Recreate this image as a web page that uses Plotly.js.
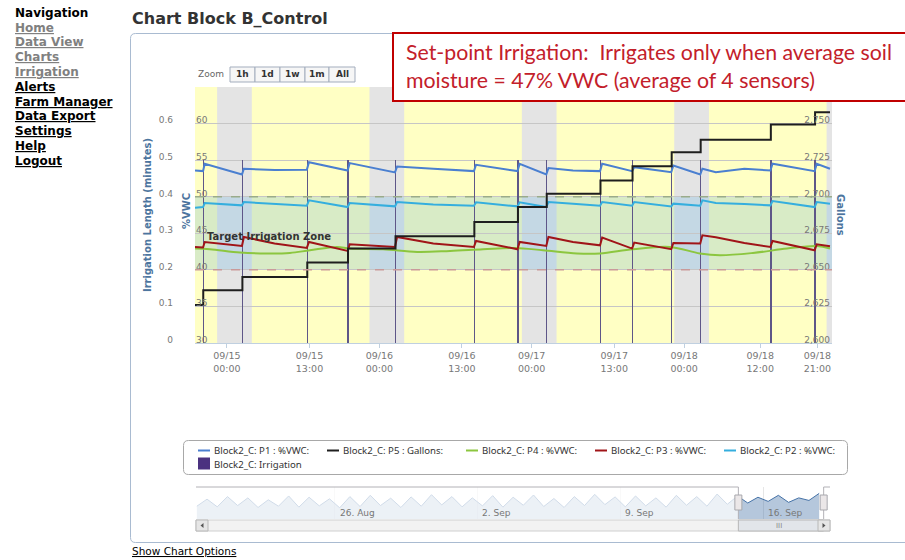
<!DOCTYPE html>
<html><head><meta charset="utf-8">
<script src="https://cdn.plot.ly/plotly-3.0.1.min.js"></script>
<style>html,body{margin:0;padding:0;background:#fff;}#chart{width:905px;height:560px;}</style>
</head><body><div id="chart"></div>
<script>
// ---------------- data ----------------
const eventTimes = ['2014-09-14 20:16','2014-09-15 02:26','2014-09-15 12:39','2014-09-15 19:04','2014-09-16 02:33','2014-09-16 14:58','2014-09-16 21:50','2014-09-17 02:22','2014-09-17 10:50','2014-09-17 15:53','2014-09-17 22:03','2014-09-18 02:37','2014-09-18 13:40','2014-09-18 20:38'];
const irrigationMinutes = [0.5,0.5,0.5,0.5,0.5,0.5,0.5,0.5,0.5,0.5,0.5,0.5,0.5,0.5];

const sensorTimes = ['2014-09-14 18:58','2014-09-14 20:14','2014-09-14 20:30','2014-09-15 02:22','2014-09-15 02:40','2014-09-15 07:30','2014-09-15 12:35','2014-09-15 12:55','2014-09-15 19:00','2014-09-15 19:20','2014-09-16 02:28','2014-09-16 02:48','2014-09-16 08:30','2014-09-16 14:54','2014-09-16 15:14','2014-09-16 21:46','2014-09-16 22:06','2014-09-17 02:18','2014-09-17 02:38','2014-09-17 06:30','2014-09-17 10:46','2014-09-17 11:06','2014-09-17 15:49','2014-09-17 16:09','2014-09-17 21:59','2014-09-17 22:19','2014-09-18 02:33','2014-09-18 02:53','2014-09-18 05:00','2014-09-18 09:30','2014-09-18 13:36','2014-09-18 13:56','2014-09-18 20:34','2014-09-18 20:54','2014-09-18 22:59'];
const p1VWC = [53.59,53.50,54.51,53.05,53.82,53.65,53.69,54.72,53.59,54.59,53.32,54.14,53.82,53.50,54.37,53.50,54.51,53.05,53.91,53.59,53.50,54.51,53.50,54.04,53.36,54.27,53.05,53.82,53.36,53.82,53.59,54.51,53.50,54.51,53.82];
const p2VWC = [48.50,48.59,49.13,48.82,49.27,49.05,48.77,49.50,48.59,49.13,48.68,49.27,48.95,48.77,49.23,48.68,49.23,48.59,49.27,49.05,48.77,49.27,48.77,49.27,48.68,49.05,48.77,49.50,49.13,49.00,48.82,49.41,48.59,49.27,49.05];
const p3VWC = [43.13,43.05,43.81,43.27,44.50,43.60,43.00,43.81,42.59,43.50,43.13,44.50,43.60,43.13,43.95,42.82,43.81,43.27,44.50,43.81,43.36,44.41,42.91,43.73,42.82,43.68,43.59,44.73,44.45,43.68,43.13,43.95,42.68,43.50,43.23];

const p4Times = ['2014-09-14 18:58','2014-09-14 21:19','2014-09-15 02:03','2014-09-15 06:18','2014-09-15 09:55','2014-09-15 13:04','2014-09-15 17:19','2014-09-15 19:22','2014-09-16 00:34','2014-09-16 05:57','2014-09-16 11:08','2014-09-16 16:20','2014-09-16 21:22','2014-09-17 01:47','2014-09-17 07:08','2014-09-17 10:45','2014-09-17 15:57','2014-09-17 21:47','2014-09-18 02:30','2014-09-18 05:39','2014-09-18 10:51','2014-09-18 16:13','2014-09-18 20:56','2014-09-18 22:59'];
const p4VWC = [42.91,42.82,42.37,42.24,42.31,42.68,43.13,42.91,42.82,42.45,42.59,42.82,43.00,42.68,42.24,42.24,42.82,43.13,42.24,42.00,42.31,42.91,43.27,42.91];

const gallonTimes = ['2014-09-14 18:58','2014-09-14 20:16','2014-09-15 02:26','2014-09-15 12:39','2014-09-15 19:04','2014-09-16 02:33','2014-09-16 14:58','2014-09-16 21:50','2014-09-17 02:22','2014-09-17 10:50','2014-09-17 15:53','2014-09-17 22:03','2014-09-18 02:37','2014-09-18 13:40','2014-09-18 20:38','2014-09-18 22:59'];
const gallonValues = [2625.9,2636.1,2645.2,2655.0,2664.6,2673.0,2682.7,2692.9,2702.1,2711.1,2720.9,2730.4,2738.9,2749.3,2757.7,2757.7];

const nightStart = ['2014-09-14 22:27','2014-09-15 22:27','2014-09-16 22:27','2014-09-17 22:27','2014-09-18 22:27'];
const nightEnd   = ['2014-09-15 03:55','2014-09-16 03:55','2014-09-17 03:55','2014-09-18 03:55','2014-09-19 03:55'];
const zoneLow = 40, zoneHigh = 50;

const xTickVals = ['2014-09-15 00:00','2014-09-15 13:00','2014-09-16 00:00','2014-09-16 13:00','2014-09-17 00:00','2014-09-17 13:00','2014-09-18 00:00','2014-09-18 12:00','2014-09-18 21:00'];
const xTickText = ['09/15<br>00:00','09/15<br>13:00','09/16<br>00:00','09/16<br>13:00','09/17<br>00:00','09/17<br>13:00','09/18<br>00:00','09/18<br>12:00','09/18<br>21:00'];
const vwcTicks = [30,35,40,45,50,55,60];
const minuteTicks = [0,0.1,0.2,0.3,0.4,0.5,0.6];
const minuteTickText = ['0','0.1','0.2','0.3','0.4','0.5','0.6'];
const gallonTicks = [2600,2625,2650,2675,2700,2725,2750];
const gallonTickText = ['2,600','2,625','2,650','2,675','2,700','2,725','2,750'];

const navTimes = ['2014-08-19 06:00','2014-08-19 18:00','2014-08-20 06:00','2014-08-20 18:00','2014-08-21 06:00','2014-08-21 18:00','2014-08-22 06:00','2014-08-22 18:00','2014-08-23 06:00','2014-08-23 18:00','2014-08-24 06:00','2014-08-24 18:00','2014-08-25 06:00','2014-08-25 18:00','2014-08-26 06:00','2014-08-26 18:00','2014-08-27 06:00','2014-08-27 18:00','2014-08-28 06:00','2014-08-28 18:00','2014-08-29 06:00','2014-08-29 18:00','2014-08-30 06:00','2014-08-30 18:00','2014-08-31 06:00','2014-08-31 18:00','2014-09-01 06:00','2014-09-01 18:00','2014-09-02 06:00','2014-09-02 18:00','2014-09-03 06:00','2014-09-03 18:00','2014-09-04 06:00','2014-09-04 18:00','2014-09-05 06:00','2014-09-05 18:00','2014-09-06 06:00','2014-09-06 18:00','2014-09-07 06:00','2014-09-07 18:00','2014-09-08 06:00','2014-09-08 18:00','2014-09-09 06:00','2014-09-09 18:00','2014-09-10 06:00','2014-09-10 18:00','2014-09-11 06:00','2014-09-11 18:00','2014-09-12 06:00','2014-09-12 18:00','2014-09-13 06:00','2014-09-13 18:00','2014-09-14 06:00','2014-09-14 18:00','2014-09-15 06:00','2014-09-15 18:00','2014-09-16 06:00','2014-09-16 18:00','2014-09-17 06:00','2014-09-17 18:00','2014-09-18 06:00','2014-09-18 18:00'];
const navValues = [0.40,0.62,0.38,0.70,0.42,0.66,0.36,0.60,0.40,0.72,0.37,0.68,0.41,0.63,0.35,0.70,0.39,0.74,0.42,0.65,0.36,0.69,0.40,0.76,0.44,0.70,0.38,0.66,0.41,0.73,0.37,0.68,0.43,0.75,0.39,0.64,0.36,0.70,0.42,0.77,0.45,0.69,0.38,0.72,0.41,0.66,0.37,0.74,0.43,0.70,0.40,0.78,0.46,0.72,0.50,0.68,0.55,0.74,0.52,0.66,0.58,0.80];
const navTickVals = ['2014-08-26','2014-09-02','2014-09-09','2014-09-16'];
const navTickText = ['26. Aug','2. Sep','9. Sep','16. Sep'];

const seriesNames = ['Block2_C: P1 : %VWC:','Block2_C: P5 : Gallons:','Block2_C: P4 : %VWC:','Block2_C: P3 : %VWC:','Block2_C: P2 : %VWC:','Block2_C: Irrigation'];
const seriesColors = ['#4a7fd0','#1e1e1e','#8cc63f','#a01418','#35aede','#4b3280'];

const navItems = [['Navigation','#000000',false],['Home','#808080',true],['Data View','#808080',true],['Charts','#808080',true],['Irrigation','#808080',true],['Alerts','#000000',true],['Farm Manager','#000000',true],['Data Export','#000000',true],['Settings','#000000',true],['Help','#000000',true],['Logout','#000000',true]];
const zoomButtons = ['1h','1d','1w','1m','All'];

// ---------------- layout helpers ----------------
const W = 905, H = 560;
const X = p => p / W, Y = p => 1 - p / H;
const mainRange = ['2014-09-14 18:58','2014-09-18 23:18'];
const navRange = ['2014-08-19 05:00','2014-09-19 06:45'];
const BLUE_T = '#4d759e';
const FONT = 'DejaVu Sans, Verdana, sans-serif';

const traces = [
  {name:seriesNames[0], x:sensorTimes, y:p1VWC, yaxis:'y2', type:'scatter', mode:'lines', line:{color:seriesColors[0], width:2}},
  {name:seriesNames[1], x:gallonTimes, y:gallonValues, yaxis:'y3', type:'scatter', mode:'lines', line:{color:seriesColors[1], width:2, shape:'hv'}},
  {name:seriesNames[2], x:p4Times, y:p4VWC, yaxis:'y2', type:'scatter', mode:'lines', line:{color:seriesColors[2], width:2, shape:'spline'}},
  {name:seriesNames[3], x:sensorTimes, y:p3VWC, yaxis:'y2', type:'scatter', mode:'lines', line:{color:seriesColors[3], width:2}},
  {name:seriesNames[4], x:sensorTimes, y:p2VWC, yaxis:'y2', type:'scatter', mode:'lines', line:{color:seriesColors[4], width:2}},
  {name:seriesNames[5], x:eventTimes, y:irrigationMinutes, yaxis:'y', type:'bar', width:eventTimes.map(()=>760000), marker:{color:'#5e5688', line:{width:0}}},
  {name:'navigator', x:navTimes, y:navValues, xaxis:'x2', yaxis:'y4', type:'scatter', mode:'lines', fill:'tozeroy', fillcolor:'rgba(69,114,167,0.4)', line:{color:'#4572a7', width:1}}
];
traces.forEach(t=>t.showlegend=false);

const shapes = [];
const annotations = [];
// chart container
const cl = X(130.5), ct = Y(33.5), cb = Y(542.5), rx = 5/W, ry = 5/H;
shapes.push({type:'path', xref:'paper', yref:'paper', layer:'below', line:{color:'#a9bbd1', width:1},
  path:`M 1.01,${ct} L ${cl+rx},${ct} Q ${cl},${ct} ${cl},${ct-ry} L ${cl},${cb+ry} Q ${cl},${cb} ${cl+rx},${cb} L 1.01,${cb}`});
// plot background bands
shapes.push({type:'rect', xref:'x domain', yref:'y domain', x0:0, x1:1, y0:0, y1:1, fillcolor:'#ffffc4', line:{width:0}, layer:'below'});
nightStart.forEach((s,i)=>shapes.push({type:'rect', xref:'x', yref:'y domain', x0:s, x1:nightEnd[i], y0:0, y1:1, fillcolor:'#e4e4e4', line:{width:0}, layer:'below'}));
shapes.push({type:'rect', xref:'x domain', yref:'y2', x0:0, x1:1, y0:zoneLow, y1:zoneHigh, fillcolor:'#d8ebc6', line:{width:0}, layer:'below'});
nightStart.forEach((s,i)=>shapes.push({type:'rect', xref:'x', yref:'y2', x0:s, x1:nightEnd[i], y0:zoneLow, y1:zoneHigh, fillcolor:'#c4d8e4', line:{width:0}, layer:'below'}));
shapes.push({type:'line', xref:'x domain', yref:'y2', x0:0, x1:1, y0:zoneHigh, y1:zoneHigh, line:{color:'#9aab8a', width:1.5, dash:'dash'}, layer:'above'});
shapes.push({type:'line', xref:'x domain', yref:'y2', x0:0, x1:1, y0:zoneLow, y1:zoneLow, line:{color:'#c99a9a', width:1.5, dash:'dash'}, layer:'above'});
// annotation box (red)
shapes.push({type:'rect', xref:'paper', yref:'paper', x0:X(393), x1:1.01, y0:Y(101), y1:Y(33), fillcolor:'#ffffff', line:{color:'#c00000', width:2}, layer:'above'});
// zoom buttons
const btnEdges = [230,255,280,305,329,355];
zoomButtons.forEach((b,i)=>shapes.push({type:'rect', xref:'paper', yref:'paper', x0:X(btnEdges[i]), x1:X(btnEdges[i+1]), y0:Y(82), y1:Y(67), fillcolor:'#f6f6f6', line:{color:'#a3adbd', width:1}, layer:'above'}));
// legend (drawn from seriesNames / seriesColors)
const lgL = X(183.5), lgR = X(847.5), lgT = Y(440.5), lgB = Y(474.5);
shapes.push({type:'path', xref:'paper', yref:'paper', layer:'above', fillcolor:'#ffffff', line:{color:'#a8a8a8', width:1},
  path:`M ${lgL+rx},${lgT} L ${lgR-rx},${lgT} Q ${lgR},${lgT} ${lgR},${lgT-ry} L ${lgR},${lgB+ry} Q ${lgR},${lgB} ${lgR-rx},${lgB} L ${lgL+rx},${lgB} Q ${lgL},${lgB} ${lgL},${lgB+ry} L ${lgL},${lgT-ry} Q ${lgL},${lgT} ${lgL+rx},${lgT} Z`});
const legendStart = [198, 327, 466, 595, 724];
const LEG_FONT = {family:'Noto Sans, sans-serif', size:9.6, color:'#333333'};
legendStart.forEach((x0,i)=>{
  shapes.push({type:'line', xref:'paper', yref:'paper', x0:X(x0), x1:X(x0+12), y0:Y(450.5), y1:Y(450.5), line:{color:seriesColors[i], width:2}, layer:'above'});
  annotations.push({xref:'paper', yref:'paper', x:X(x0+15), y:Y(450.5), xanchor:'left', yanchor:'middle', showarrow:false, borderpad:0, text:seriesNames[i], font:LEG_FONT});
});
shapes.push({type:'rect', xref:'paper', yref:'paper', x0:X(198), x1:X(210), y0:Y(469.5), y1:Y(457.5), fillcolor:seriesColors[5], line:{width:0}, layer:'above'});
annotations.push({xref:'paper', yref:'paper', x:X(213), y:Y(464), xanchor:'left', yanchor:'middle', showarrow:false, borderpad:0, text:seriesNames[5], font:LEG_FONT});
// navigator: masks, outline, handles, scrollbar
const selS = mainRange[0], selE = mainRange[1];
shapes.push({type:'rect', xref:'x2', yref:'paper', x0:navRange[0], x1:selS, y0:Y(519), y1:Y(487), fillcolor:'rgba(255,255,255,0.75)', line:{width:0}, layer:'above'});
shapes.push({type:'rect', xref:'x2', yref:'paper', x0:selE, x1:navRange[1], y0:Y(519), y1:Y(487), fillcolor:'rgba(255,255,255,0.75)', line:{width:0}, layer:'above'});
const oc = {color:'#b2b1b6', width:1};
shapes.push({type:'line', xref:'x2', yref:'paper', x0:navRange[0], x1:selS, y0:Y(487), y1:Y(487), line:oc, layer:'above'});
shapes.push({type:'line', xref:'x2', yref:'paper', x0:selS, x1:selS, y0:Y(487), y1:Y(519), line:oc, layer:'above'});
shapes.push({type:'line', xref:'x2', yref:'paper', x0:selE, x1:selE, y0:Y(487), y1:Y(519), line:oc, layer:'above'});
shapes.push({type:'line', xref:'x2', yref:'paper', x0:selE, x1:navRange[1], y0:Y(487), y1:Y(487), line:oc, layer:'above'});
// scrollbar
shapes.push({type:'rect', xref:'paper', yref:'paper', x0:X(196), x1:X(830), y0:Y(531), y1:Y(520), fillcolor:'#f2f2f2', line:{color:'#d0d0d0', width:1}, layer:'above'});
shapes.push({type:'rect', xref:'x2', yref:'paper', x0:selS, x1:selE, y0:Y(531), y1:Y(520), fillcolor:'#e2e5ea', line:{color:'#b8b8b8', width:1}, layer:'above'});
shapes.push({type:'rect', xref:'paper', yref:'paper', x0:X(196), x1:X(208), y0:Y(531), y1:Y(520), fillcolor:'#e6e6e6', line:{color:'#b8b8b8', width:1}, layer:'above'});
shapes.push({type:'rect', xref:'paper', yref:'paper', x0:X(818), x1:X(830), y0:Y(531), y1:Y(520), fillcolor:'#e6e6e6', line:{color:'#b8b8b8', width:1}, layer:'above'});
shapes.push({type:'path', xref:'paper', yref:'paper', fillcolor:'#555555', line:{width:0}, layer:'above', path:`M ${X(203.5)},${Y(523)} L ${X(200.5)},${Y(525.5)} L ${X(203.5)},${Y(528)} Z`});
shapes.push({type:'path', xref:'paper', yref:'paper', fillcolor:'#555555', line:{width:0}, layer:'above', path:`M ${X(822.5)},${Y(523)} L ${X(825.5)},${Y(525.5)} L ${X(822.5)},${Y(528)} Z`});
[selS, selE].forEach(h=>{
  shapes.push({type:'rect', xref:'x2', yref:'paper', xsizemode:'pixel', xanchor:h, x0:-3.5, x1:3.5, y0:Y(510), y1:Y(495), fillcolor:'#ebe7e8', line:{color:'#a8a8ad', width:1}, layer:'above'});
});
navTickVals.forEach((d,i)=>annotations.push({xref:'x2', yref:'paper', x:d, xshift:3, y:Y(513), xanchor:'left', yanchor:'middle', showarrow:false, text:navTickText[i], font:{family:FONT, size:9, color:'#777777'}}));

navItems.forEach((n,i)=>annotations.push({xref:'paper', yref:'paper', x:X(13), y:Y(12.7 + i*14.8), xanchor:'left', yanchor:'middle', showarrow:false, text:n[0],
  font:{family:FONT, size:12, color:n[1], weight:700, lineposition: n[2] ? 'under' : 'none'}}));
annotations.push({xref:'paper', yref:'paper', x:X(130), y:Y(18), xanchor:'left', yanchor:'middle', showarrow:false, text:'Chart Block B_Control', font:{family:FONT, size:16, color:'#333333', weight:700}});
annotations.push({xref:'paper', yref:'paper', x:X(404), y:Y(52), xanchor:'left', yanchor:'middle', showarrow:false, text:'Set-point Irrigation:&nbsp; Irrigates only when average soil', font:{family:'Lato, Open Sans, sans-serif', size:21.3, color:'#c3202a'}});
annotations.push({xref:'paper', yref:'paper', x:X(404), y:Y(80), xanchor:'left', yanchor:'middle', showarrow:false, text:'moisture = 47% VWC (average of 4 sensors)', font:{family:'Lato, Open Sans, sans-serif', size:21.3, color:'#c3202a'}});
annotations.push({xref:'paper', yref:'paper', x:X(196), y:Y(74.5), xanchor:'left', yanchor:'middle', showarrow:false, text:'Zoom', font:{family:FONT, size:9, color:'#666666'}});
zoomButtons.forEach((b,i)=>annotations.push({xref:'paper', yref:'paper', x:X((btnEdges[i]+btnEdges[i+1])/2), y:Y(74.5), xanchor:'center', yanchor:'middle', showarrow:false, text:b, font:{family:FONT, size:9, color:'#333333', weight:700}}));
annotations.push({xref:'paper', yref:'paper', x:X(205), y:Y(236), xanchor:'left', yanchor:'middle', showarrow:false, text:'Target Irrigation Zone', font:{family:FONT, size:10, color:'#333333', weight:700}});
annotations.push({xref:'paper', yref:'paper', x:X(186), y:Y(211), xanchor:'center', yanchor:'middle', textangle:-90, showarrow:false, text:'%VWC', font:{family:FONT, size:10, color:BLUE_T, weight:700}});
annotations.push({xref:'paper', yref:'paper', x:X(840), y:Y(215), xanchor:'center', yanchor:'middle', textangle:90, showarrow:false, text:'Gallons', font:{family:FONT, size:10, color:BLUE_T, weight:700}});
annotations.push({xref:'paper', yref:'paper', x:X(130), y:Y(551), xanchor:'left', yanchor:'middle', showarrow:false, text:'Show Chart Options', font:{family:FONT, size:10.5, color:'#000000', lineposition:'under'}});
annotations.push({xref:'paper', yref:'paper', x:X(779), y:Y(525.5), xanchor:'center', yanchor:'middle', showarrow:false, text:'III', font:{family:FONT, size:7, color:'#888888'}});

const tickFont = {family:FONT, size:9, color:'#777777'};
const layout = {
  width:W, height:H, margin:{l:0,r:0,t:0,b:0,pad:0},
  paper_bgcolor:'#ffffff', plot_bgcolor:'rgba(0,0,0,0)',
  showlegend:false, bargap:0,
  xaxis:{domain:[X(195), X(832)], anchor:'y', type:'date', range:mainRange, tickvals:xTickVals, ticktext:xTickText, tickfont:{family:FONT, size:9.5, color:'#777777'},
    showgrid:false, zeroline:false, showline:true, linecolor:'#c0d0e0', ticks:'outside', ticklen:4, tickcolor:'#c0d0e0'},
  yaxis:{domain:[Y(343), Y(87)], anchor:'free', position:X(173), side:'left', range:[0,0.7], tickvals:minuteTicks, ticktext:minuteTickText, tickfont:tickFont,
    ticklabelposition:'outside top', ticklabelshift:3, showgrid:true, gridcolor:'#c6c6c6', gridwidth:1, zeroline:false, showline:false, ticks:'',
    title:{text:'Irrigation Length (minutes)', font:{family:FONT, size:10, color:BLUE_T, weight:700}, standoff:4}},
  yaxis2:{overlaying:'y', anchor:'free', position:X(195), side:'right', range:[30,65], tickvals:vwcTicks, tickfont:tickFont, ticklabelposition:'outside top', ticklabelshift:3,
    showgrid:false, zeroline:false, showline:false, ticks:''},
  yaxis3:{overlaying:'y', anchor:'free', position:X(830), side:'left', range:[2600,2775], tickvals:gallonTicks, ticktext:gallonTickText, tickfont:tickFont,
    ticklabelposition:'outside top', ticklabelshift:3, showgrid:false, zeroline:false, showline:false, ticks:''},
  xaxis2:{domain:[X(196), X(830)], anchor:'y4', type:'date', range:navRange, tickvals:navTickVals, showticklabels:false,
    showgrid:true, gridcolor:'#e6e6e6', zeroline:false, showline:false, ticks:''},
  yaxis4:{domain:[Y(519), Y(487)], anchor:'x2', range:[0,1], showticklabels:false, showgrid:false, zeroline:false, showline:false, ticks:''},
  shapes:shapes, annotations:annotations
};
Plotly.newPlot('chart', traces, layout, {staticPlot:true, displayModeBar:false});
</script></body></html>
